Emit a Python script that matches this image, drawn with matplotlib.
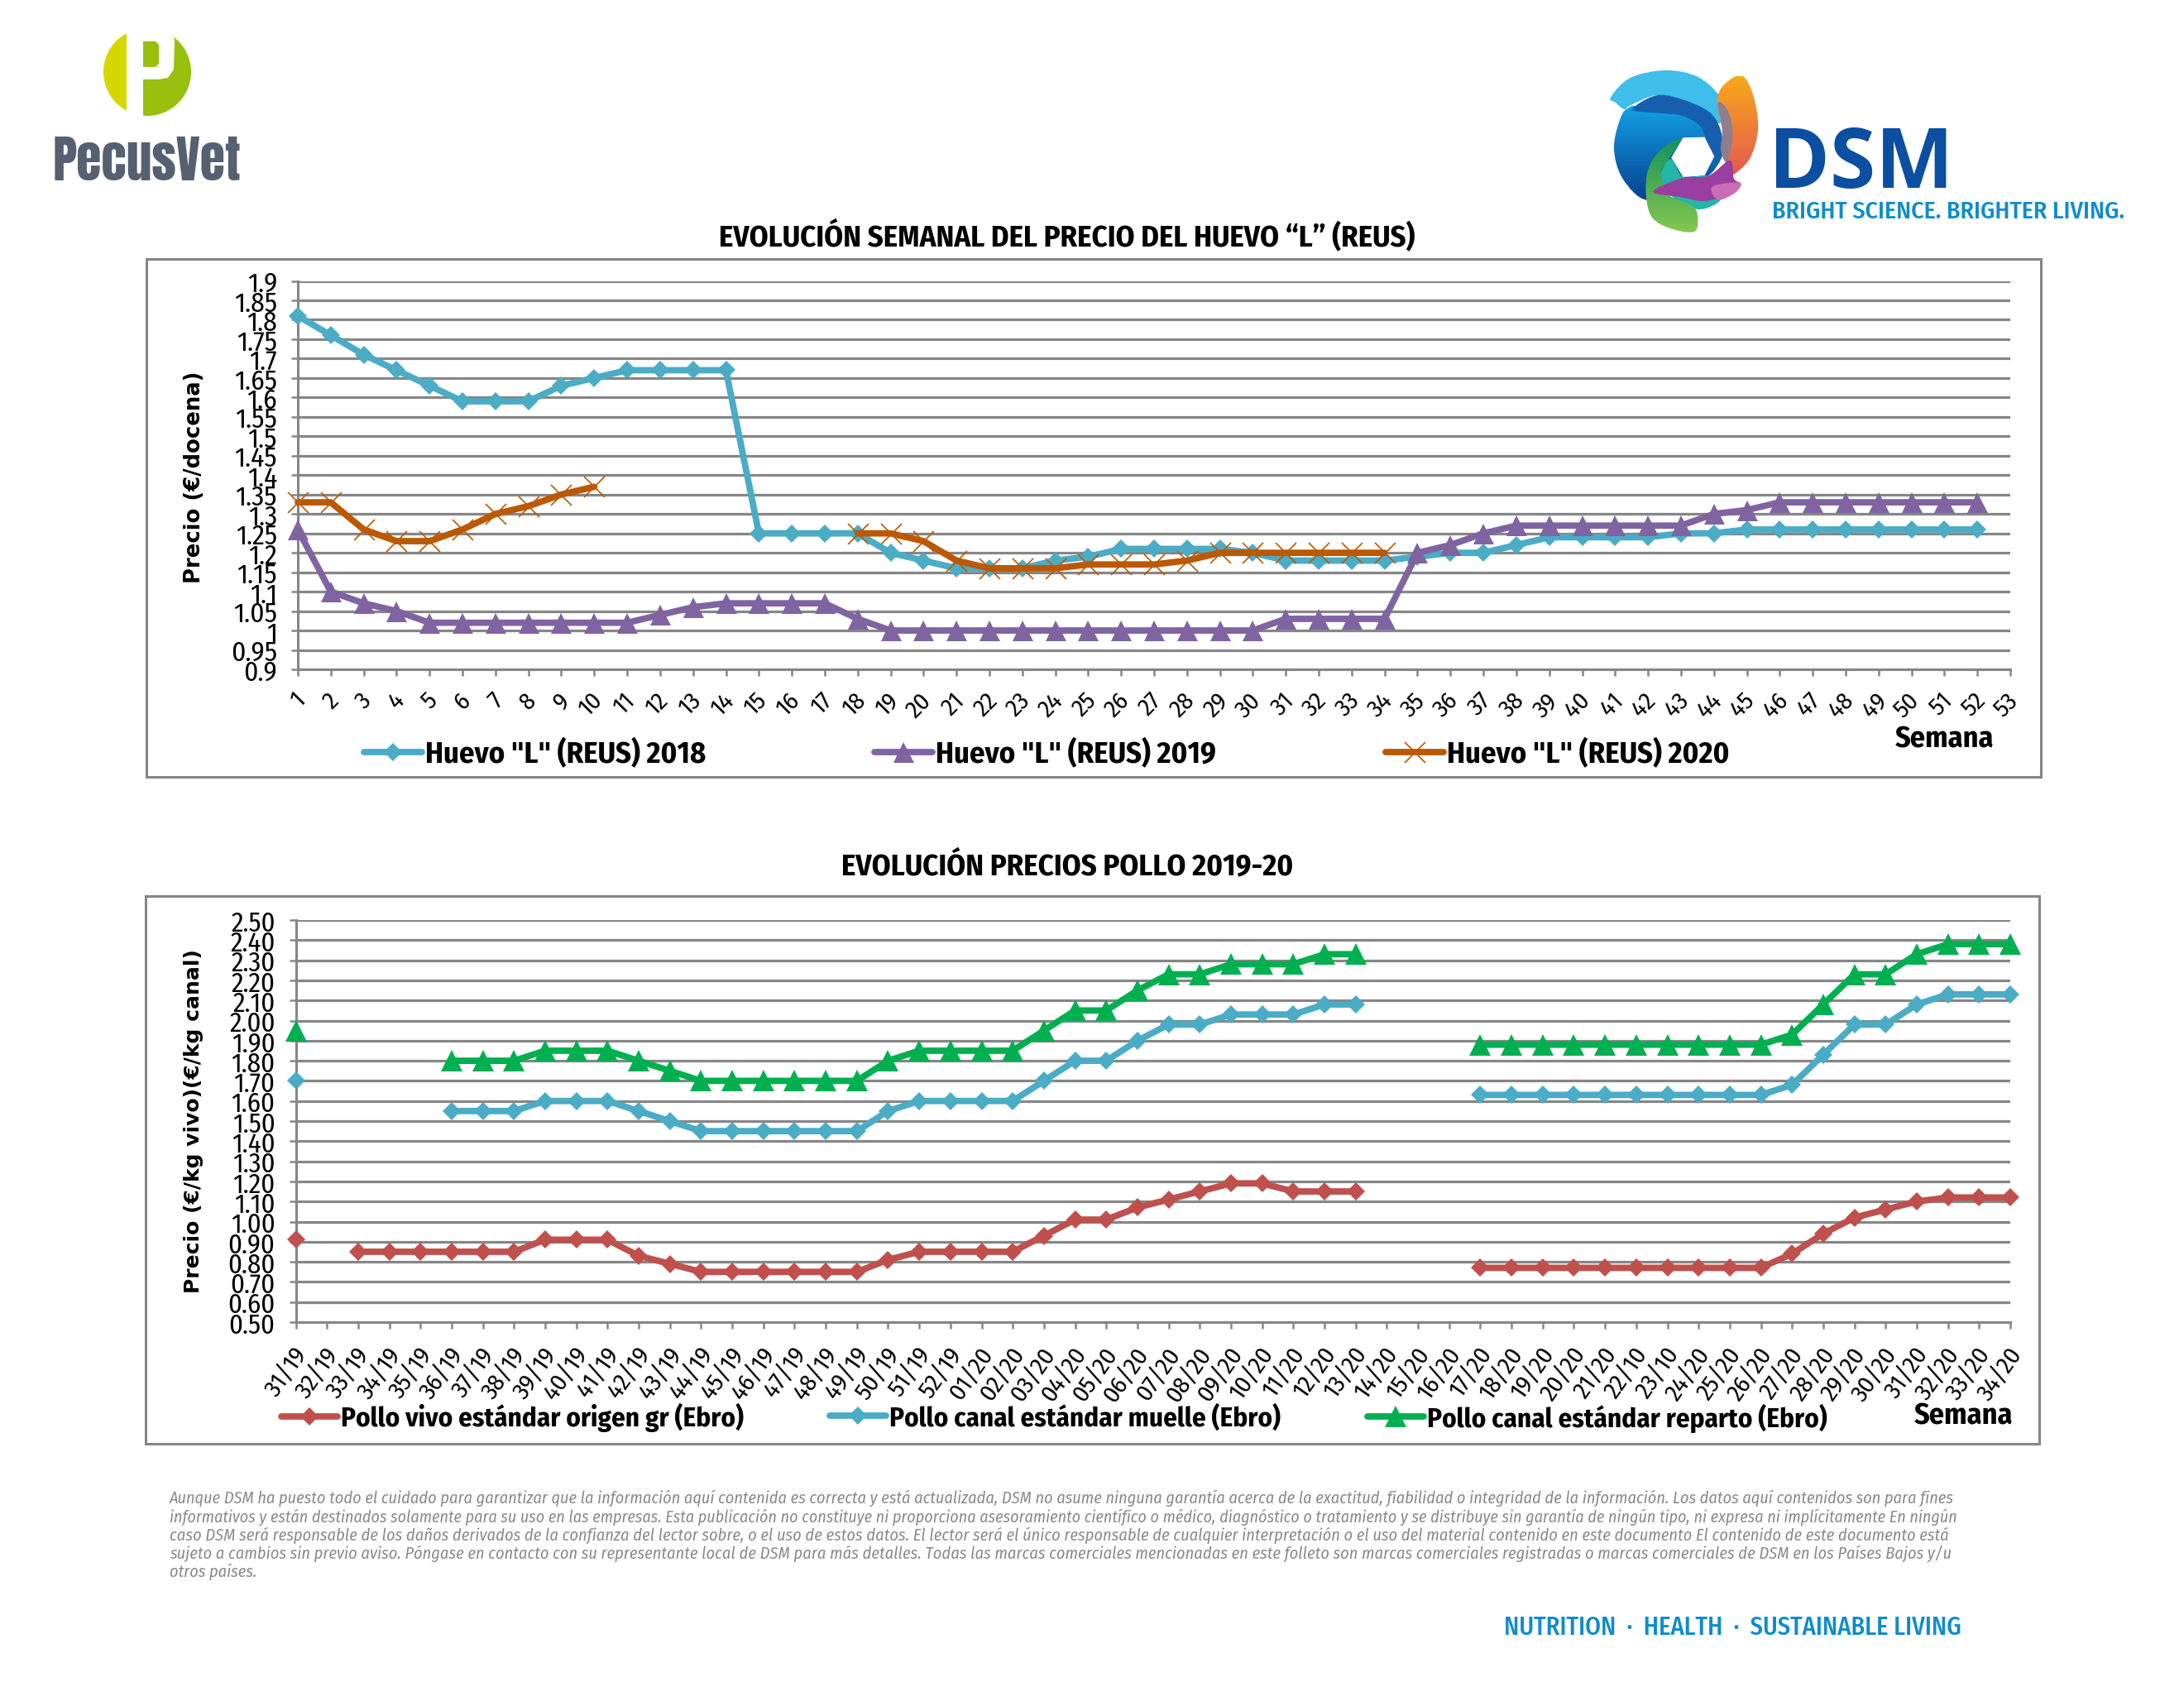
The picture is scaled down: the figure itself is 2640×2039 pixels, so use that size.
import numpy as np
import matplotlib
matplotlib.use("Agg")
import matplotlib.pyplot as plt
from matplotlib.patches import Ellipse, Polygon, Rectangle, PathPatch
from matplotlib.path import Path
from matplotlib.transforms import ScaledTranslation

nan = float("nan")
W, H = 2640, 2040

weeks_huevo = list(range(1, 54))
huevo_2018 = [1.81,1.76,1.71,1.67,1.63,1.59,1.59,1.59,1.63,1.65,1.67,1.67,1.67,1.67,
              1.25,1.25,1.25,1.25,1.20,1.18,1.16,1.16,1.16,1.18,1.19,1.21,1.21,1.21,1.21,1.20,
              1.18,1.18,1.18,1.18,1.19,1.20,1.20,1.22,1.24,1.24,1.24,1.24,1.25,1.25,
              1.26,1.26,1.26,1.26,1.26,1.26,1.26,1.26,nan]
huevo_2019 = [1.26,1.10,1.07,1.05,1.02,1.02,1.02,1.02,1.02,1.02,1.02,1.04,1.06,1.07,1.07,1.07,1.07,1.03,
              1.00,1.00,1.00,1.00,1.00,1.00,1.00,1.00,1.00,1.00,1.00,1.00,1.03,1.03,1.03,1.03,
              1.20,1.22,1.25,1.27,1.27,1.27,1.27,1.27,1.27,1.30,1.31,
              1.33,1.33,1.33,1.33,1.33,1.33,1.33,nan]
huevo_2020 = [1.33,1.33,1.26,1.23,1.23,1.26,1.30,1.32,1.35,1.37,nan,nan,nan,nan,nan,nan,nan,
              1.25,1.25,1.23,1.18,1.16,1.16,1.16,1.17,1.17,1.17,1.18,1.20,1.20,1.20,1.20,1.20,1.20,
              nan,nan,nan,nan,nan,nan,nan,nan,nan,nan,nan,nan,nan,nan,nan,nan,nan,nan,nan]
huevo_ticks = [1.9,1.85,1.8,1.75,1.7,1.65,1.6,1.55,1.5,1.45,1.4,1.35,1.3,1.25,1.2,1.15,1.1,1.05,1,0.95,0.9]
huevo_ticklabels = ["1.9","1.85","1.8","1.75","1.7","1.65","1.6","1.55","1.5","1.45","1.4","1.35","1.3","1.25","1.2","1.15","1.1","1.05","1","0.95","0.9"]

semanas_pollo = ["31/19","32/19","33/19","34/19","35/19","36/19","37/19","38/19","39/19","40/19","41/19","42/19","43/19",
                 "44/19","45/19","46/19","47/19","48/19","49/19","50/19","51/19","52/19","01/20","02/20","03/20","04/20",
                 "05/20","06/20","07/20","08/20","09/20","10/20","11/20","12/20","13/20","14/20","15/20","16/20","17/20",
                 "18/20","19/20","20/20","21/20","22/10","23/10","24/20","25/20","26/20","27/20","28/20","29/20","30/20",
                 "31/20","32/20","33/20","34/20"]
pollo_vivo = [0.91,nan,0.85,0.85,0.85,0.85,0.85,0.85,0.91,0.91,0.91,0.83,0.79,0.75,0.75,0.75,0.75,0.75,0.75,0.81,0.85,0.85,0.85,0.85,
              0.93,1.01,1.01,1.07,1.11,1.15,1.19,1.19,1.15,1.15,1.15,nan,nan,nan,
              0.77,0.77,0.77,0.77,0.77,0.77,0.77,0.77,0.77,0.77,0.84,0.94,1.02,1.06,1.10,1.12,1.12,1.12]
pollo_muelle = [1.70,nan,nan,nan,nan,1.55,1.55,1.55,1.60,1.60,1.60,1.55,1.50,1.45,1.45,1.45,1.45,1.45,1.45,1.55,1.60,1.60,1.60,1.60,
                1.70,1.80,1.80,1.90,1.98,1.98,2.03,2.03,2.03,2.08,2.08,nan,nan,nan,
                1.63,1.63,1.63,1.63,1.63,1.63,1.63,1.63,1.63,1.63,1.68,1.83,1.98,1.98,2.08,2.13,2.13,2.13]
pollo_reparto = [1.95,nan,nan,nan,nan,1.80,1.80,1.80,1.85,1.85,1.85,1.80,1.75,1.70,1.70,1.70,1.70,1.70,1.70,1.80,1.85,1.85,1.85,1.85,
                 1.95,2.05,2.05,2.15,2.23,2.23,2.28,2.28,2.28,2.33,2.33,nan,nan,nan,
                 1.88,1.88,1.88,1.88,1.88,1.88,1.88,1.88,1.88,1.88,1.93,2.08,2.23,2.23,2.33,2.38,2.38,2.38]
pollo_ticks = [2.5,2.4,2.3,2.2,2.1,2.0,1.9,1.8,1.7,1.6,1.5,1.4,1.3,1.2,1.1,1.0,0.9,0.8,0.7,0.6,0.5]

footer_lines = [
 "Aunque DSM ha puesto todo el cuidado para garantizar que la información aquí contenida es correcta y está actualizada, DSM no asume ninguna garantía acerca de la exactitud, fiabilidad o integridad de la información. Los datos aquí contenidos son para fines",
 "informativos y están destinados solamente para su uso en las empresas. Esta publicación no constituye ni proporciona asesoramiento científico o médico, diagnóstico o tratamiento y se distribuye sin garantía de ningún tipo, ni expresa ni implícitamente En ningún",
 "caso DSM será responsable de los daños derivados de la confianza del lector sobre, o el uso de estos datos. El lector será el único responsable de cualquier interpretación o el uso del material contenido en este documento El contenido de este documento está",
 "sujeto a cambios sin previo aviso. Póngase en contacto con su representante local de DSM para más detalles. Todas las marcas comerciales mencionadas en este folleto son marcas comerciales registradas o marcas comerciales de DSM en los Países Bajos y/u",
 "otros países.",
]

NARROW = ["Fira Sans Condensed", "Roboto Condensed", "Lato", "DejaVu Sans"]
GRID = "#868686"
BLUE, PURPLE, ORANGE, RED, GREEN = "#4BACC6", "#8064A2", "#BB5800", "#C0504D", "#00B050"

fig = plt.figure(figsize=(W / 200, H / 200), dpi=200, facecolor="white")

bg = fig.add_axes([0, 0, 1, 1], zorder=-1)
bg.axis("off")


def place_axes(x0, x1, y0, y1):
    ax = fig.add_axes([x0 / W, 1 - y1 / H, (x1 - x0) / W, (y1 - y0) / H])
    ax.patch.set_alpha(0)
    for s in ("top", "right"):
        ax.spines[s].set_visible(False)
    for s in ("left", "bottom"):
        ax.spines[s].set_color(GRID)
        ax.spines[s].set_linewidth(1.1)
    ax.yaxis.grid(True, color=GRID, lw=1.15, zorder=0)
    ax.set_axisbelow(True)
    ax.tick_params(axis="both", color=GRID, width=0.9, length=3)
    return ax


def txt(x, y, s, **kw):
    kw.setdefault("family", NARROW)
    kw.setdefault("ha", "center")
    kw.setdefault("va", "center")
    return bg.text(x, y, s, **kw)


def series(ax, x, y, color, marker, ms, label, mew=0, lw=2.8, z=3):
    return ax.plot(x, y, color=color, lw=lw, marker=marker, ms=ms, mew=mew, mec=color,
                   mfc=color, label=label, clip_on=False, zorder=z, solid_joinstyle="round",
                   solid_capstyle="round")[0]


def legend_at(line, x, y, size, hl):
    fig.legend(handles=[line], loc="center left", bbox_to_anchor=(x / W, 1 - y / H), frameon=False,
               borderpad=0, borderaxespad=0, handlelength=hl, handletextpad=0.12, numpoints=1,
               prop={"family": NARROW, "weight": "bold", "size": size})


def shift_labels(ax, px):
    off = ScaledTranslation(px / 200, 0, fig.dpi_scale_trans)
    for lab in ax.get_xticklabels():
        lab.set_transform(lab.get_transform() + off)


# Frames
for x0, x1, y0, y1 in [(177, 2467, 314, 940), (176, 2465, 1084, 1746)]:
    bg.add_patch(Rectangle((x0, y0), x1 - x0, y1 - y0, fc="white", ec=GRID, lw=1.1))

# Top chart
ax1 = place_axes(360, 2430, 340.5, 810)
l1 = series(ax1, weeks_huevo, huevo_2018, BLUE, "D", 5.4, 'Huevo "L" (REUS) 2018', z=3)
l2 = series(ax1, weeks_huevo, huevo_2019, PURPLE, "^", 9, 'Huevo "L" (REUS) 2019', z=4)
l3 = series(ax1, weeks_huevo, huevo_2020, ORANGE, "x", 9, 'Huevo "L" (REUS) 2020', mew=0.6, z=5)
ax1.set_xlim(1, 53)
ax1.set_ylim(0.9, 1.9)
ax1.set_yticks(huevo_ticks)
ax1.set_yticklabels(huevo_ticklabels, family=NARROW, fontsize=12)
ax1.set_xticks(weeks_huevo)
ax1.set_xticklabels(weeks_huevo, family=NARROW, fontsize=10.8, rotation=45, ha="right", rotation_mode="anchor")
ax1.tick_params(axis="y", pad=6)
ax1.tick_params(axis="x", pad=5)
shift_labels(ax1, -5)
legend_at(l1, 440, 912, 13.2, 1.9)
legend_at(l2, 1057, 912, 13.2, 1.9)
legend_at(l3, 1675, 912, 13.2, 1.9)

# Bottom chart
ax2 = place_axes(357.5, 2430, 1113, 1599)
xp = list(range(len(semanas_pollo)))
l4 = series(ax2, xp, pollo_vivo, RED, "D", 5.4, "Pollo vivo estándar origen gr (Ebro)")
l5 = series(ax2, xp, pollo_muelle, BLUE, "D", 5.4, "Pollo canal estándar muelle (Ebro)")
l6 = series(ax2, xp, pollo_reparto, GREEN, "^", 9.6, "Pollo canal estándar reparto (Ebro)", z=4)
ax2.set_xlim(0, len(semanas_pollo) - 1)
ax2.set_ylim(0.5, 2.5)
ax2.set_yticks(pollo_ticks)
ax2.set_yticklabels([f"{v:.2f}" for v in pollo_ticks], family=NARROW, fontsize=11.8)
ax2.set_xticks(xp)
ax2.set_xticklabels(semanas_pollo, family=NARROW, fontsize=10.8, rotation=55, ha="right", rotation_mode="anchor")
ax2.tick_params(axis="y", pad=6)
ax2.tick_params(axis="x", pad=6)
shift_labels(ax2, -3)
legend_at(l4, 340, 1714, 11.9, 2.05)
legend_at(l5, 1003, 1714, 11.9, 2.05)
legend_at(l6, 1653, 1714, 11.9, 2.05)

# Titles and axis names
txt(1290, 286, "EVOLUCIÓN SEMANAL DEL PRECIO DEL HUEVO “L” (REUS)", fontsize=13.2, weight="bold")
txt(1290, 1047, "EVOLUCIÓN PRECIOS POLLO 2019-20", fontsize=13.2, weight="bold")
txt(235, 577, "Precio (€/docena)", family="DejaVu Sans", fontsize=9.3, weight="bold", rotation=90)
txt(234, 1355, "Precio (€/kg vivo)(€/kg canal)", family="DejaVu Sans", fontsize=9, weight="bold", rotation=90)
txt(2351, 894, "Semana", fontsize=13, weight="bold")
txt(2374, 1712, "Semana", fontsize=13, weight="bold")

# Footer: each line sized to the justified width of the block
renderer = fig.canvas.get_renderer()
sizes = []
for i, line in enumerate(footer_lines):
    t = txt(205, 1811 + i * 22.2, line, ha="left", style="italic", fontsize=7, color="#8A8A8A")
    if i < 4:
        size = 7 * 2165 / t.get_window_extent(renderer).width
        sizes.append(size)
    else:
        size = float(np.mean(sizes))
    t.set_fontsize(size)
txt(2371, 1967, "NUTRITION  ·  HEALTH  ·  SUSTAINABLE LIVING", ha="right", fontsize=10.9, weight="medium", color="#0E8CCB")

# PecusVet logo
clip_l = Rectangle((0, 0), 153, 400, transform=bg.transData)
clip_r = Rectangle((173, 0), 200, 400, transform=bg.transData)
e1 = Ellipse((178, 88), 106, 106, fc="#D4D800", ec="none")
bg.add_patch(e1)
e1.set_clip_path(clip_l)
e2 = Ellipse((178, 88), 106, 106, fc="#98C00C", ec="none")
bg.add_patch(e2)
e2.set_clip_path(clip_r)
bg.add_patch(Polygon([(173, 30), (207, 30), (211, 50), (210, 85), (203, 95), (192, 97), (173, 97)], fc="white", ec="none"))
bg.add_patch(Polygon([(209, 40), (240, 40), (240, 20), (200, 20)], fc="white", ec="none"))
bg.add_patch(Polygon([(173, 51), (188, 51), (192, 55), (192, 78), (188, 82), (173, 82)], fc="#98C00C", ec="none"))
txt(64, 195, "PecusVet", ha="left", family=["Anton", "Fira Sans Condensed", "DejaVu Sans"], fontsize=22.3, color="#556170")


# DSM logo
def spline(pts):
    p = np.array([(1900 + a / 2.119, 50 + b / 3) for a, b in pts])
    n = len(p)
    verts = [tuple(p[0])]
    codes = [Path.MOVETO]
    for i in range(n):
        p0, p1, p2, p3 = p[i - 1], p[i], p[(i + 1) % n], p[(i + 2) % n]
        verts += [tuple(p1 + (p2 - p0) / 6), tuple(p2 - (p3 - p1) / 6), tuple(p2)]
        codes += [Path.CURVE4] * 3
    return Path(verts, codes)


def shape(pts, fc, z):
    bg.add_patch(PathPatch(spline(pts), fc=fc, ec="none", zorder=z))


def grad(pts, top, bottom, y0, y1, z):
    path = spline(pts)
    a = np.array(matplotlib.colors.to_rgb(top))
    b = np.array(matplotlib.colors.to_rgb(bottom))
    t = np.linspace(0, 1, 64)[:, None, None]
    img = a[None, None, :] * (1 - t) + b[None, None, :] * t
    im = bg.imshow(img, extent=(1900, 2160, 50 + y1 / 3, 50 + y0 / 3), aspect="auto", interpolation="bilinear", zorder=z)
    im.set_clip_path(PathPatch(path, transform=bg.transData))


shape([(100, 205), (150, 135), (240, 108), (320, 130), (375, 195), (388, 260), (372, 300), (300, 225), (220, 198), (150, 235), (135, 250), (112, 225)], "#3FBDEB", 1)
grad([(192, 578), (130, 500), (108, 390), (125, 280), (150, 240), (220, 198), (300, 222), (360, 270), (385, 350), (385, 420), (345, 495), (270, 520)],
     "#12A0E4", "#08418F", 240, 580, 1.05)
shape([(155, 250), (220, 198), (300, 222), (360, 270), (385, 350), (378, 440), (362, 420), (342, 350), (325, 305), (280, 272), (215, 262)], "#155FAE", 1.1)
grad([(435, 127), (465, 200), (477, 320), (455, 430), (405, 495), (385, 490), (395, 420), (385, 320), (372, 220), (390, 160)],
     "#F7A81B", "#E5574F", 130, 495, 1.12)
shape([(374, 225), (400, 255), (412, 340), (398, 440), (382, 400), (385, 320)], "#8E7F90", 1.15)
bg.add_patch(Polygon([(1900 + a / 2.119, 50 + b / 3) for a, b in [(255, 425), (285, 352), (340, 350), (365, 420), (340, 490), (285, 495)]], fc="white", ec="none", zorder=1.2))
shape([(255, 430), (285, 495), (345, 490), (372, 530), (380, 580), (330, 612), (280, 590), (240, 540), (228, 480)], "#23B5A5", 1.3)
grad([(280, 355), (225, 400), (195, 470), (190, 560), (205, 640), (250, 680), (315, 692), (320, 620), (295, 590), (250, 560), (228, 480), (250, 425)],
     "#15925A", "#85C850", 355, 695, 1.4)
shape([(208, 548), (280, 500), (350, 490), (405, 435), (415, 500), (432, 520), (410, 555), (340, 582), (280, 568)], "#9A3FA2", 1.5)
shape([(360, 530), (430, 515), (420, 550), (375, 578)], "#CB6DB6", 1.6)
txt(2138, 200, "DSM", ha="left", family=["Open Sans"], weight="bold", fontsize=36, color="#0B4EA2")
txt(2142, 256, "BRIGHT SCIENCE. BRIGHTER LIVING.", ha="left", fontsize=10.75, weight="medium", color="#0E8CCB")

bg.set_xlim(0, W)
bg.set_ylim(H, 0)
fig.savefig("out.png", dpi=200, facecolor="white")
